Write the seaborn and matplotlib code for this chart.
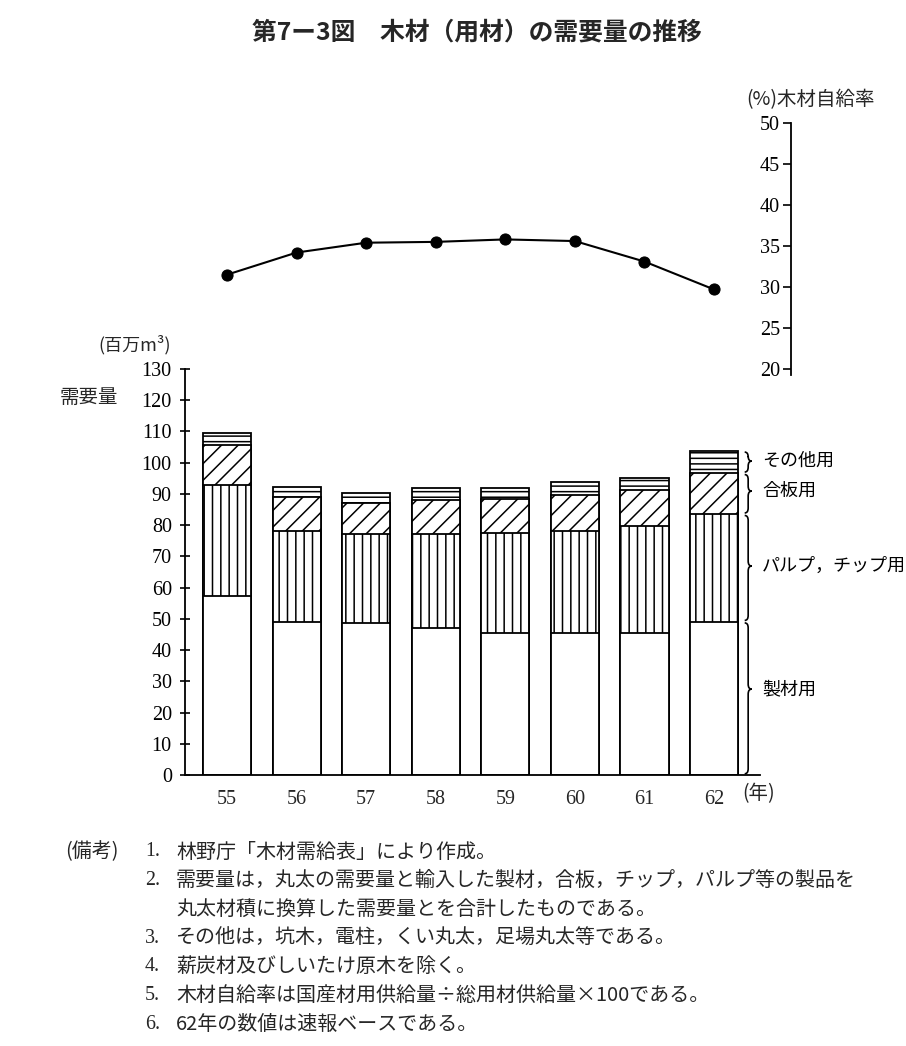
import numpy as np
import pandas as pd
import matplotlib
matplotlib.use("Agg")
import matplotlib.pyplot as plt
import seaborn as sns
from matplotlib.path import Path
from matplotlib.patches import PathPatch

# ---------------- data ----------------
years = ["55", "56", "57", "58", "59", "60", "61", "62"]
sawn = [57.4, 49.1, 48.6, 47.0, 45.4, 45.6, 45.6, 49.1]      # 製材用
pulp = [35.5, 29.1, 28.5, 30.1, 32.0, 32.5, 34.1, 34.4]      # パルプ，チップ用
plywood = [12.8, 10.9, 10.1, 11.0, 11.0, 11.6, 11.6, 13.1]   # 合板用
other = [3.9, 3.2, 3.2, 3.7, 3.6, 4.2, 3.9, 7.2]             # その他用
rate = [31.5, 34.2, 35.4, 35.5, 35.8, 35.6, 33.1, 29.7]      # 木材自給率 (%)
left_ticks = list(range(0, 131, 10))
right_ticks = list(range(20, 51, 5))
seg_labels = ["その他用", "合板用", "パルプ，チップ用", "製材用"]

# ---------------- style ----------------
sns.set_theme(style="white")
plt.rcParams["font.family"] = ["Noto Sans CJK JP", "DejaVu Sans"]
plt.rcParams["hatch.linewidth"] = 1.1
plt.rcParams["hatch.color"] = "black"
NUMFONT = "Liberation Serif"

W, H = 906, 1046
fig = plt.figure(figsize=(W / 100, H / 100), dpi=100)


def fx(x):
    return x / W


def fy(y):
    return 1 - y / H


# bar axes: spine x=185, y 0 at px 775, 130 at px 369
ax = fig.add_axes([fx(185), fy(775), fx(760) - fx(185), fy(369) - fy(775)])
# rate axes: spine at x=791, 50 at px 123, 19.3 at ~374.7
ax2 = fig.add_axes([fx(185), fy(374.7), fx(791) - fx(185), fy(123) - fy(374.7)])
ax2.patch.set_visible(False)

s = np.array(sawn)
c1 = s
c2 = c1 + np.array(pulp)
c3 = c2 + np.array(plywood)
c4 = c3 + np.array(other)
layers = [(c4, "---"), (c3, "//"), (c2, "||"), (c1, "")]
for vals, hatch in layers:
    n0 = len(ax.patches)
    sns.barplot(x=years, y=vals, order=years, ax=ax, color="white",
                edgecolor="black", linewidth=1.3, width=0.69,
                saturation=1, errorbar=None)
    for p in ax.patches[n0:]:
        p.set_hatch(hatch)
        p.set_facecolor("white")

ax.set_xlim(-0.604, 7.66)
ax.set_ylim(0, 130)
ax.set_yticks(left_ticks)
ax.set_yticklabels([str(t) for t in left_ticks], family=NUMFONT, fontsize=14.5)
ax.set_xticks(range(len(years)))
ax.set_xticklabels(years, family=NUMFONT, fontsize=14.5)
ax.tick_params(axis="x", length=0, pad=11)
ax.tick_params(axis="y", left=True, direction="inout", length=7, width=1.2, pad=6,
               colors="black")
for side in ["top", "right"]:
    ax.spines[side].set_visible(False)
for side in ["left", "bottom"]:
    ax.spines[side].set_color("black")
    ax.spines[side].set_linewidth(1.3)
ax.set_xlabel("")
ax.set_ylabel("")


# curly braces aligned to last bar's segments
def brace(axis, x0, w, ya, yb, ym, r):
    xm = x0 + w / 2
    verts = [(x0, ya), (xm, ya), (xm, ya + r), (xm, ym - r), (xm, ym), (x0 + w, ym),
             (xm, ym), (xm, ym + r), (xm, yb - r), (xm, yb), (x0, yb)]
    codes = [Path.MOVETO, Path.CURVE3, Path.CURVE3, Path.LINETO, Path.CURVE3, Path.CURVE3,
             Path.CURVE3, Path.CURVE3, Path.LINETO, Path.CURVE3, Path.CURVE3]
    axis.add_patch(PathPatch(Path(verts, codes), fill=False, lw=1.2, ec="black",
                             clip_on=False))


last = len(years) - 1
bounds = [(c3[last], c4[last]), (c2[last], c3[last]), (c1[last], c2[last]), (0, c1[last])]
label_y = [100.5, 90.9, 66.9, 27.5]
for (ya, yb), ly, lab in zip(bounds, label_y, seg_labels):
    r = min(1.6, (yb - ya) / 4)
    tip = min(max(ly, ya + 2 * r), yb - 2 * r)
    brace(ax, 7.44, 0.10, ya + 0.4, yb - 0.4, tip, r)
    ax.text(7.69, ly, lab, fontsize=13, va="center", ha="left", color="black",
            clip_on=False)

# ---------------- rate line ----------------
sns.lineplot(x=np.arange(len(years)), y=rate, ax=ax2, color="black", marker="o",
             markersize=8, linewidth=1.5, markeredgecolor="black")
ax2.set_xlim(-0.604, 8.107)
ax2.set_ylim(19.3, 50)
ax2.spines["left"].set_position(("axes", 1.0))
ax2.spines["left"].set_color("black")
ax2.spines["left"].set_linewidth(1.3)
for side in ["top", "right", "bottom"]:
    ax2.spines[side].set_visible(False)
ax2.set_xticks([])
ax2.set_yticks(right_ticks)
ax2.set_yticklabels([str(t) for t in right_ticks], family=NUMFONT, fontsize=14.5)
ax2.tick_params(axis="y", left=True, direction="out", length=6, width=1.2, pad=2,
                colors="black")
ax2.set_xlabel("")
ax2.set_ylabel("")

# ---------------- texts ----------------
fig.text(fx(477), fy(32), "第7ー3図　木材（用材）の需要量の推移", fontsize=17.8,
         fontweight="bold", ha="center", va="center")
fig.text(fx(810), fy(100), "(%)木材自給率", fontsize=14, ha="center", va="center")
fig.text(fx(135), fy(345), "(百万m³)", fontsize=13, ha="center", va="center")
fig.text(fx(89), fy(397), "需要量", fontsize=14, ha="center", va="center")
fig.text(fx(742), fy(794), "(年)", fontsize=14, ha="left", va="center")

notes = [
    ("1.", "林野庁「木材需給表」により作成。"),
    ("2.", "需要量は，丸太の需要量と輸入した製材，合板，チップ，パルプ等の製品を"),
    ("", "丸太材積に換算した需要量とを合計したものである。"),
    ("3.", "その他は，坑木，電柱，くい丸太，足場丸太等である。"),
    ("4.", "薪炭材及びしいたけ原木を除く。"),
    ("5.", "木材自給率は国産材用供給量÷総用材供給量×100である。"),
    ("6.", "62年の数値は速報ベースである。"),
]
fig.text(fx(65), fy(852), "(備考)", fontsize=14.4, ha="left", va="center")
for i, (num, txt) in enumerate(notes):
    y = 852 + i * 28.7
    if num:
        fig.text(fx(145), fy(y), num, fontsize=14.4, ha="left", va="center",
                 family=[NUMFONT, "Noto Sans CJK JP"])
    fig.text(fx(176), fy(y), txt, fontsize=14.4, ha="left", va="center")

fig.savefig("out.png", dpi=100)
